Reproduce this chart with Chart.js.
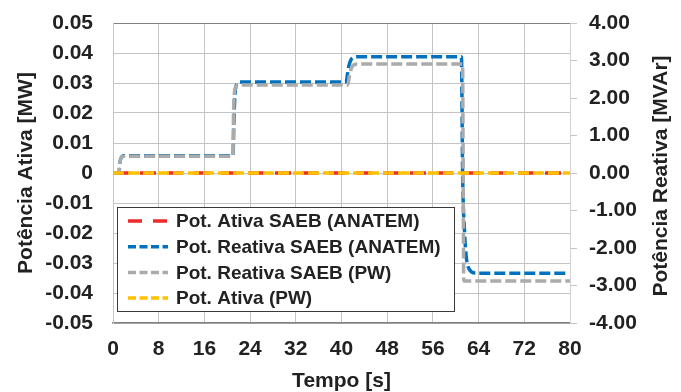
<!DOCTYPE html>
<html>
<head>
<meta charset="utf-8">
<script src="https://cdn.jsdelivr.net/npm/chart.js@4.4.1/dist/chart.umd.min.js"></script>
<style>
  html, body { margin: 0; padding: 0; background: #fff; }
  #wrap { width: 681px; height: 392px; position: relative; }
</style>
</head>
<body>
<div id="wrap"><canvas id="c"></canvas></div>
<script>
// ── dados ──
var SERIES_LABELS = ['Pot. Ativa SAEB (ANATEM)', 'Pot. Reativa SAEB (ANATEM)', 'Pot. Reativa SAEB (PW)', 'Pot. Ativa (PW)'];

// tempo [s] / potência ativa [MW]
var T_ATIVA_ANATEM = [0, 80];
var P_ATIVA_ANATEM = [0, 0];
var T_ATIVA_PW = [0, 80];
var P_ATIVA_PW = [0, 0];

// tempo [s] / potência reativa [MVAr]
var T_REAT_ANATEM = [0, 1.0, 1.3, 1.9, 21.0, 21.2, 21.5, 22.2, 40.8, 41.2, 41.8, 42.9, 61.0, 61.2, 61.55, 61.85, 62.3, 63.5, 79.2];
var Q_REAT_ANATEM = [0, 0, 0.35, 0.46, 0.46, 1.6, 2.3, 2.43, 2.43, 2.8, 3.05, 3.10, 3.10, 0, -1.6, -2.25, -2.55, -2.67, -2.67];
var T_REAT_PW = [0, 1.0, 1.3, 1.8, 21.0, 21.1, 21.4, 22.0, 41.1, 41.4, 41.9, 42.8, 61.2, 61.3, 61.4, 80];
var Q_REAT_PW = [0, 0, 0.35, 0.45, 0.45, 1.6, 2.25, 2.35, 2.35, 2.6, 2.85, 2.91, 2.91, 0, -2.88, -2.88];

// eixos
var X_MIN = 0, X_MAX = 80, X_STEP = 8;
var Y_MIN = -0.05, Y_MAX = 0.05, Y_STEP = 0.01;
var Y1_MIN = -4, Y1_MAX = 4, Y1_STEP = 1;
var Y1_TITLE = 'Potência Reativa [MVAr]';

function pts(xs, ys) { return xs.map(function (x, i) { return { x: x, y: ys[i] }; }); }

var FONT = "'Liberation Sans', Arial, sans-serif";
var TXT = '#222';

// legenda dentro da área do gráfico + título do eixo secundário (lido de baixo p/ cima, como no Excel)
var extras = {
  id: 'extras',
  afterDatasetsDraw: function (chart) {
    var ctx = chart.ctx;
    var x0 = 117, y0 = 207, w = 337, h = 104;
    ctx.save();
    ctx.fillStyle = '#fff';
    ctx.fillRect(x0, y0, w, h);
    ctx.strokeStyle = '#3a3a3a';
    ctx.lineWidth = 1;
    ctx.strokeRect(x0 + 0.5, y0 + 0.5, w, h);
    var dashes = [[14, 11], [8, 3.5], [8, 3.5], [8, 3.5]];
    chart.data.datasets.forEach(function (ds, i) {
      var y = y0 + 14 + i * 25.7;
      ctx.setLineDash(dashes[i]);
      ctx.strokeStyle = ds.borderColor;
      ctx.lineWidth = 3.5;
      ctx.beginPath(); ctx.moveTo(128, y); ctx.lineTo(168, y); ctx.stroke();
      ctx.setLineDash([]);
      ctx.fillStyle = TXT;
      ctx.font = 'bold 19px ' + FONT;
      ctx.textBaseline = 'middle';
      ctx.textAlign = 'left';
      ctx.fillText(ds.label, 176, y + 1);
    });
    // título do eixo direito
    var ca = chart.chartArea;
    ctx.translate(661, (ca.top + ca.bottom) / 2 + 3);
    ctx.rotate(-Math.PI / 2);
    ctx.font = 'bold 21px ' + FONT;
    ctx.textAlign = 'center';
    ctx.textBaseline = 'middle';
    ctx.fillText(Y1_TITLE, 0, 0);
    ctx.restore();
  }
};

var common = { pointRadius: 0, pointHoverRadius: 0, borderWidth: 3.5, fill: false, borderCapStyle: 'butt', cubicInterpolationMode: 'monotone' };

new Chart(document.getElementById('c'), {
  type: 'line',
  data: {
    datasets: [
      Object.assign({ label: SERIES_LABELS[0], data: pts(T_ATIVA_ANATEM, P_ATIVA_ANATEM), yAxisID: 'y', borderColor: '#EE2A2A', borderDash: [16, 11], order: 4 }, common),
      Object.assign({ label: SERIES_LABELS[1], data: pts(T_REAT_ANATEM, Q_REAT_ANATEM), yAxisID: 'y1', borderColor: '#0070C0', borderDash: [11, 4], order: 3 }, common),
      Object.assign({ label: SERIES_LABELS[2], data: pts(T_REAT_PW, Q_REAT_PW), yAxisID: 'y1', borderColor: '#ABABAB', borderDash: [11, 4], order: 2 }, common),
      Object.assign({ label: SERIES_LABELS[3], data: pts(T_ATIVA_PW, P_ATIVA_PW), yAxisID: 'y', borderColor: '#FFC000', borderDash: [11, 4], order: 1 }, common)
    ]
  },
  options: {
    responsive: true, maintainAspectRatio: false, animation: false, devicePixelRatio: 1,
    layout: { autoPadding: false, padding: { top: 23, left: 0, right: 0, bottom: 0 } },
    plugins: { legend: { display: false }, tooltip: { enabled: false } },
    scales: {
      x: {
        type: 'linear', min: X_MIN, max: X_MAX,
        afterFit: function (s) { s.height = 69; s.paddingLeft = 0; s.paddingRight = 0; },
        ticks: { stepSize: X_STEP, color: TXT, font: { family: FONT, size: 21, weight: 'bold' }, padding: 14, maxRotation: 0 },
        grid: { color: '#c4c4c4', lineWidth: 1, drawTicks: false },
        border: { display: true, color: '#808080', width: 1.5 },
        title: { display: true, text: 'Tempo [s]', color: TXT, font: { family: FONT, size: 21, weight: 'bold', lineHeight: 1 }, padding: { top: 0, bottom: 0 } }
      },
      y: {
        position: 'left', min: Y_MIN, max: Y_MAX,
        afterFit: function (s) { s.width = 113; s.paddingTop = 0; s.paddingBottom = 0; },
        ticks: {
          stepSize: Y_STEP, color: TXT, font: { family: FONT, size: 21, weight: 'bold' }, padding: 20,
          callback: function (v) { var r = Math.round(v * 100) / 100; return r === 0 ? '0' : r.toFixed(2); }
        },
        grid: {
          drawTicks: false, lineWidth: 1,
          color: function (c) { return c.tick && Math.abs(c.tick.value - Y_MAX) < 1e-9 ? '#808080' : '#c4c4c4'; }
        },
        border: { display: true, color: '#c4c4c4' },
        title: { display: true, text: 'Potência Ativa [MW]', color: TXT, font: { family: FONT, size: 21, weight: 'bold', lineHeight: 1 }, padding: { top: 16, bottom: 0 } }
      },
      y1: {
        position: 'right', min: Y1_MIN, max: Y1_MAX,
        afterFit: function (s) { s.width = 111; s.paddingTop = 0; s.paddingBottom = 0; },
        ticks: {
          stepSize: Y1_STEP, color: TXT, font: { family: FONT, size: 21, weight: 'bold' }, padding: 12,
          callback: function (v) { return (Math.round(v * 100) / 100).toFixed(2); }
        },
        grid: { drawOnChartArea: false, drawTicks: true, tickLength: 7, color: '#c4c4c4' },
        border: { display: true, color: '#d4d4d4' },
        title: { display: false }
      }
    }
  },
  plugins: [extras]
});
</script>
</body>
</html>
